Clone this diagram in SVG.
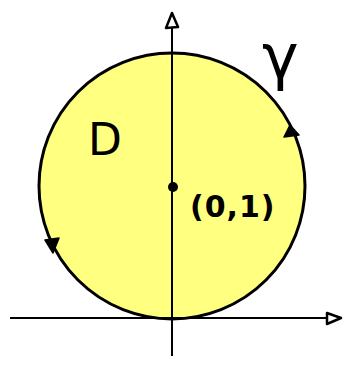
<svg xmlns="http://www.w3.org/2000/svg" width="350" height="371" viewBox="0 0 350 371">
<style>
.ax{stroke:#000;stroke-width:2;fill:none}
.ah{stroke:#000;stroke-width:2.5;fill:#fff;stroke-linejoin:round}
.lbl{font-family:"DejaVu Sans",sans-serif;fill:#000}
</style>
<rect width="350" height="371" fill="#fff"/>
<g id="disk">
<circle cx="172" cy="186" r="133" fill="#ffff80" stroke="#000" stroke-width="3"/>
<path d="M290,125 L284,137 L299,135 Z" fill="#000" stroke="#000" stroke-width="1.5" stroke-linejoin="round"/>
<path d="M53,253 L45,240 L59,238 Z" fill="#000" stroke="#000" stroke-width="1.5" stroke-linejoin="round"/>
</g>
<g id="connectors">
<line class="ax" x1="10" y1="318" x2="328" y2="318"/>
<path class="ah" d="M341,318 L327,313 L327,324 Z"/>
<line class="ax" x1="172" y1="356" x2="172" y2="27"/>
<path class="ah" d="M172,13 L166,28 L178,27 Z"/>
</g>
<g id="center">
<circle cx="173" cy="187" r="5" fill="#000"/>
<text class="lbl" x="190" y="217" font-size="30" font-weight="bold" letter-spacing="1">(0,1)</text>
</g>
<g id="labelD"><text class="lbl" x="88" y="155" font-size="44">D</text></g>
<g id="labelGamma"><text class="lbl" x="262" y="78" font-size="62">γ</text></g>
</svg>
